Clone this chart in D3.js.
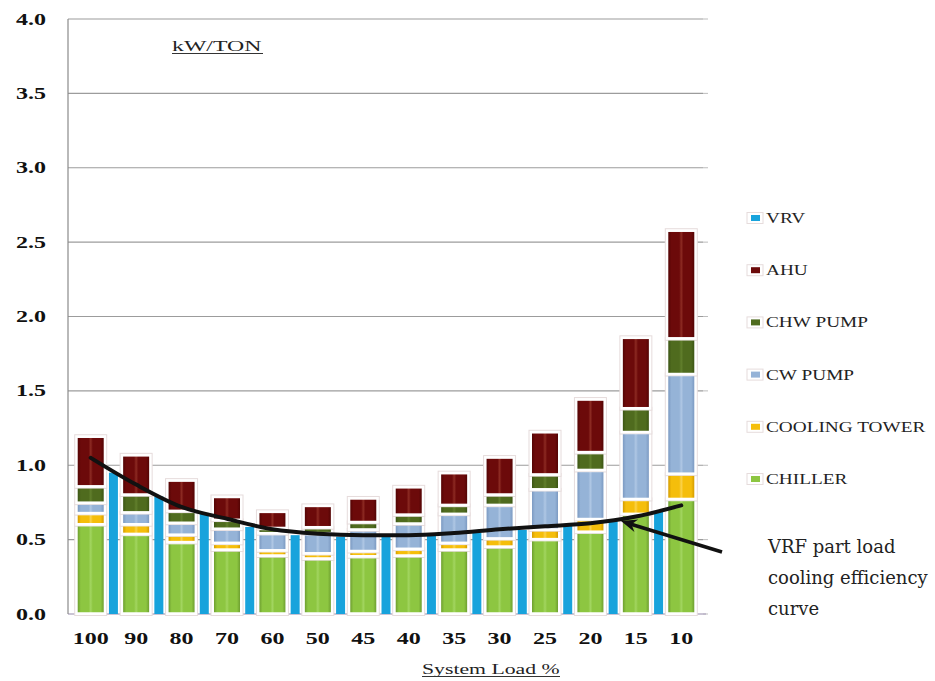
<!DOCTYPE html>
<html><head><meta charset="utf-8">
<script src="https://cdn.jsdelivr.net/npm/d3@7"></script>
<style>body{margin:0;background:#fff;} svg{display:block;}</style>
</head><body>
<svg id="chart" width="935" height="681"></svg>
<script>
// ---------- data ----------
const categories   = ["100","90","80","70","60","50","45","40","35","30","25","20","15","10"];
const chiller      = [0.60,0.535,0.48,0.43,0.39,0.37,0.385,0.39,0.43,0.45,0.50,0.55,0.67,0.77];
const coolingTower = [0.075,0.065,0.05,0.045,0.035,0.035,0.035,0.045,0.045,0.055,0.065,0.085,0.10,0.17];
const cwPump       = [0.07,0.08,0.08,0.095,0.115,0.135,0.145,0.17,0.195,0.225,0.27,0.33,0.45,0.67];
const chwPump      = [0.11,0.12,0.08,0.06,0.035,0.04,0.05,0.06,0.06,0.07,0.10,0.12,0.16,0.24];
const ahu          = [0.34,0.27,0.21,0.16,0.115,0.15,0.165,0.19,0.22,0.255,0.29,0.36,0.48,0.73];
// VRV bars sit between neighbouring load groups (13 bars)
const vrv          = [0.95,0.79,0.68,0.585,0.53,0.52,0.52,0.53,0.545,0.565,0.60,0.63,0.69];
// VRF part load cooling efficiency curve (value at each load)
const curveVals    = [1.05,0.87,0.72,0.64,0.57,0.54,0.53,0.53,0.545,0.57,0.59,0.61,0.655,0.73];
const yTicks       = [0,0.5,1,1.5,2,2.5,3,3.5,4];
const yTickLabels  = ["0.0","0.5","1.0","1.5","2.0","2.5","3.0","3.5","4.0"];
const seriesKeys   = ["CHILLER","COOLING TOWER","CW PUMP","CHW PUMP","AHU"];
const legendNames  = ["VRV","AHU","CHW PUMP","CW PUMP","COOLING TOWER","CHILLER"];
const titleText    = "kW/TON";
const xTitleText   = "System Load %";
const noteLines    = ["VRF part load","cooling efficiency","curve"];

// ---------- styles ----------
const colors = {
  "VRV":"#18A3DC",
  "CHILLER":{base:"#8DC641",edge:"#6E9F30",hl:"#A2D560"},
  "COOLING TOWER":{base:"#F5BE0B",edge:"#D59C00",hl:"#FBD24A"},
  "CW PUMP":{base:"#95B3D7",edge:"#7C9AC2",hl:"#AFC7E4"},
  "CHW PUMP":{base:"#4F6B1E",edge:"#3C5514",hl:"#617F2C"},
  "AHU":{base:"#6C0A0A",edge:"#540404",hl:"#8C2A22"}
};
const serif = "'Liberation Serif','Times New Roman',serif";

const svg = d3.select("#chart");
const plot = {left:68, right:704, top:19, bottom:614};

const x = d3.scaleBand().domain(categories).range([plot.left, plot.right]).padding(0);
const y = d3.scaleLinear().domain([0,4]).range([plot.bottom, plot.top]);
const cx = c => x(c) + x.bandwidth()/2;

// gradients
const defs = svg.append("defs");
seriesKeys.forEach((k,i)=>{
  const c = colors[k];
  const g = defs.append("linearGradient").attr("id","g"+i).attr("x1","0").attr("x2","1").attr("y1","0").attr("y2","0");
  [[0,c.edge],[0.12,c.base],[0.42,c.base],[0.5,c.hl],[0.58,c.base],[0.88,c.base],[1,c.edge]]
    .forEach(([o,col])=>g.append("stop").attr("offset",o).attr("stop-color",col));
});

// gridlines
svg.append("g").selectAll("line").data(yTicks.filter(v=>v>0)).join("line")
  .attr("x1",plot.left).attr("x2",plot.right-1)
  .attr("y1",d=>y(d)).attr("y2",d=>y(d))
  .attr("stroke","#9c9c9c").attr("stroke-width",1.2);
// right-side small ticks
svg.append("g").selectAll("line").data(yTicks).join("line")
  .attr("x1",plot.right-1).attr("x2",plot.right+4)
  .attr("y1",d=>y(d)).attr("y2",d=>y(d))
  .attr("stroke","#bdbdbd").attr("stroke-width",1);
// bottom axis
svg.append("line").attr("x1",plot.left).attr("x2",plot.right+2)
  .attr("y1",y(0)).attr("y2",y(0)).attr("stroke","#b9b0c6").attr("stroke-width",1.5);
// left axis
svg.append("line").attr("x1",plot.left).attr("x2",plot.left)
  .attr("y1",y(4)).attr("y2",y(0)).attr("stroke","#8a8a8a").attr("stroke-width",1.2);

// VRV bars (between groups)
svg.append("g").selectAll("rect").data(vrv).join("rect")
  .attr("x",(d,i)=>x(categories[i]) + x.bandwidth() - 4.5)
  .attr("width",9)
  .attr("y",d=>y(d)).attr("height",d=>y(0)-y(d))
  .attr("fill",colors.VRV);

// stacked bars
const table = categories.map((c,i)=>({cat:c,"CHILLER":chiller[i],"COOLING TOWER":coolingTower[i],"CW PUMP":cwPump[i],"CHW PUMP":chwPump[i],"AHU":ahu[i]}));
const stacked = d3.stack().keys(seriesKeys)(table);
const barW = 26;
const frames = svg.append("g"), fills = svg.append("g");
stacked.forEach((layer)=>{
  frames.selectAll(null).data(layer).join("rect")
    .attr("x",d=>cx(d.data.cat)-barW/2-3).attr("width",barW+6)
    .attr("y",d=>y(d[1])-1.5).attr("height",d=>y(d[0])-y(d[1])+3)
    .attr("fill","#fff").attr("stroke","#e6dcdc").attr("stroke-width",1);
});
stacked.forEach((layer,li)=>{
  fills.selectAll(null).data(layer).join("rect")
    .attr("x",d=>cx(d.data.cat)-barW/2).attr("width",barW)
    .attr("y",d=>y(d[1])+1.75)
    .attr("height",d=>Math.max(1,y(d[0])-y(d[1])-3.5))
    .attr("fill","url(#g"+li+")");
});

// efficiency curve
const line = d3.line().x((d,i)=>cx(categories[i])).y(d=>y(d)).curve(d3.curveMonotoneX);
svg.append("path").datum(curveVals).attr("d",line)
  .attr("fill","none").attr("stroke","#111").attr("stroke-width",4).attr("stroke-linecap","round");

// arrow annotation
const tail = [722,552], tip = [621,521];
svg.append("line").attr("x1",tail[0]).attr("y1",tail[1]).attr("x2",tip[0]+6).attr("y2",tip[1]+2)
  .attr("stroke","#111").attr("stroke-width",3.5);
{
  const dx = tail[0]-tip[0], dy = tail[1]-tip[1], L = Math.hypot(dx,dy);
  const ux = dx/L, uy = dy/L, px = -uy, py = ux;
  const bl = 16, bw = 6.5;
  const p1 = [tip[0]+ux*bl+px*bw, tip[1]+uy*bl+py*bw];
  const p2 = [tip[0]+ux*bl-px*bw, tip[1]+uy*bl-py*bw];
  svg.append("path").attr("d",`M${tip}L${p1}L${tip[0]+ux*11},${tip[1]+uy*11}L${p2}Z`).attr("fill","#111");
}
svg.append("g").selectAll("text").data(noteLines).join("text")
  .attr("x",768).attr("y",(d,i)=>553+i*31)
  .attr("font-family","'DejaVu Serif',serif").attr("font-size",18).attr("fill","#222")
  .text(d=>d);

// stretched text helper
function sText(g, tx, ty, str, size, sx, opts={}){
  return g.append("text").attr("transform",`translate(${tx},${ty}) scale(${sx},1)`)
    .attr("font-family",serif).attr("font-size",size)
    .attr("font-weight",opts.bold?"bold":"normal")
    .attr("text-anchor",opts.anchor||"start").attr("fill",opts.fill||"#1a1a1a").text(str);
}

// y tick labels
yTicks.forEach((v,i)=>sText(svg,46,y(v)+5.5,yTickLabels[i],16,1.5,{bold:true,anchor:"end",fill:"#111"}));
// x tick labels
categories.forEach(c=>sText(svg,cx(c),643.5,c,16,1.5,{bold:true,anchor:"middle",fill:"#111"}));

// title
sText(svg,172,51,titleText,14,1.7,{fill:"#222"});
svg.append("line").attr("x1",172).attr("x2",263).attr("y1",53.5).attr("y2",53.5).attr("stroke","#333").attr("stroke-width",1);
// x axis title
sText(svg,422,674,xTitleText,15,1.45,{fill:"#222"});
svg.append("line").attr("x1",422).attr("x2",560).attr("y1",676.5).attr("y2",676.5).attr("stroke","#333").attr("stroke-width",1);

// legend
const legG = svg.append("g");
legendNames.forEach((n,i)=>{
  const cy = 218 + i*52.2;
  const col = n==="VRV" ? colors.VRV : colors[n].base;
  legG.append("rect").attr("x",747).attr("y",cy-5.5).attr("width",16).attr("height",11)
    .attr("fill","#fff").attr("stroke","#e6dcdc");
  legG.append("rect").attr("x",751).attr("y",cy-3).attr("width",9).attr("height",6).attr("fill",col);
  sText(legG,766,cy+5,n,14.5,1.33,{fill:"#222"});
});
</script>
</body></html>
